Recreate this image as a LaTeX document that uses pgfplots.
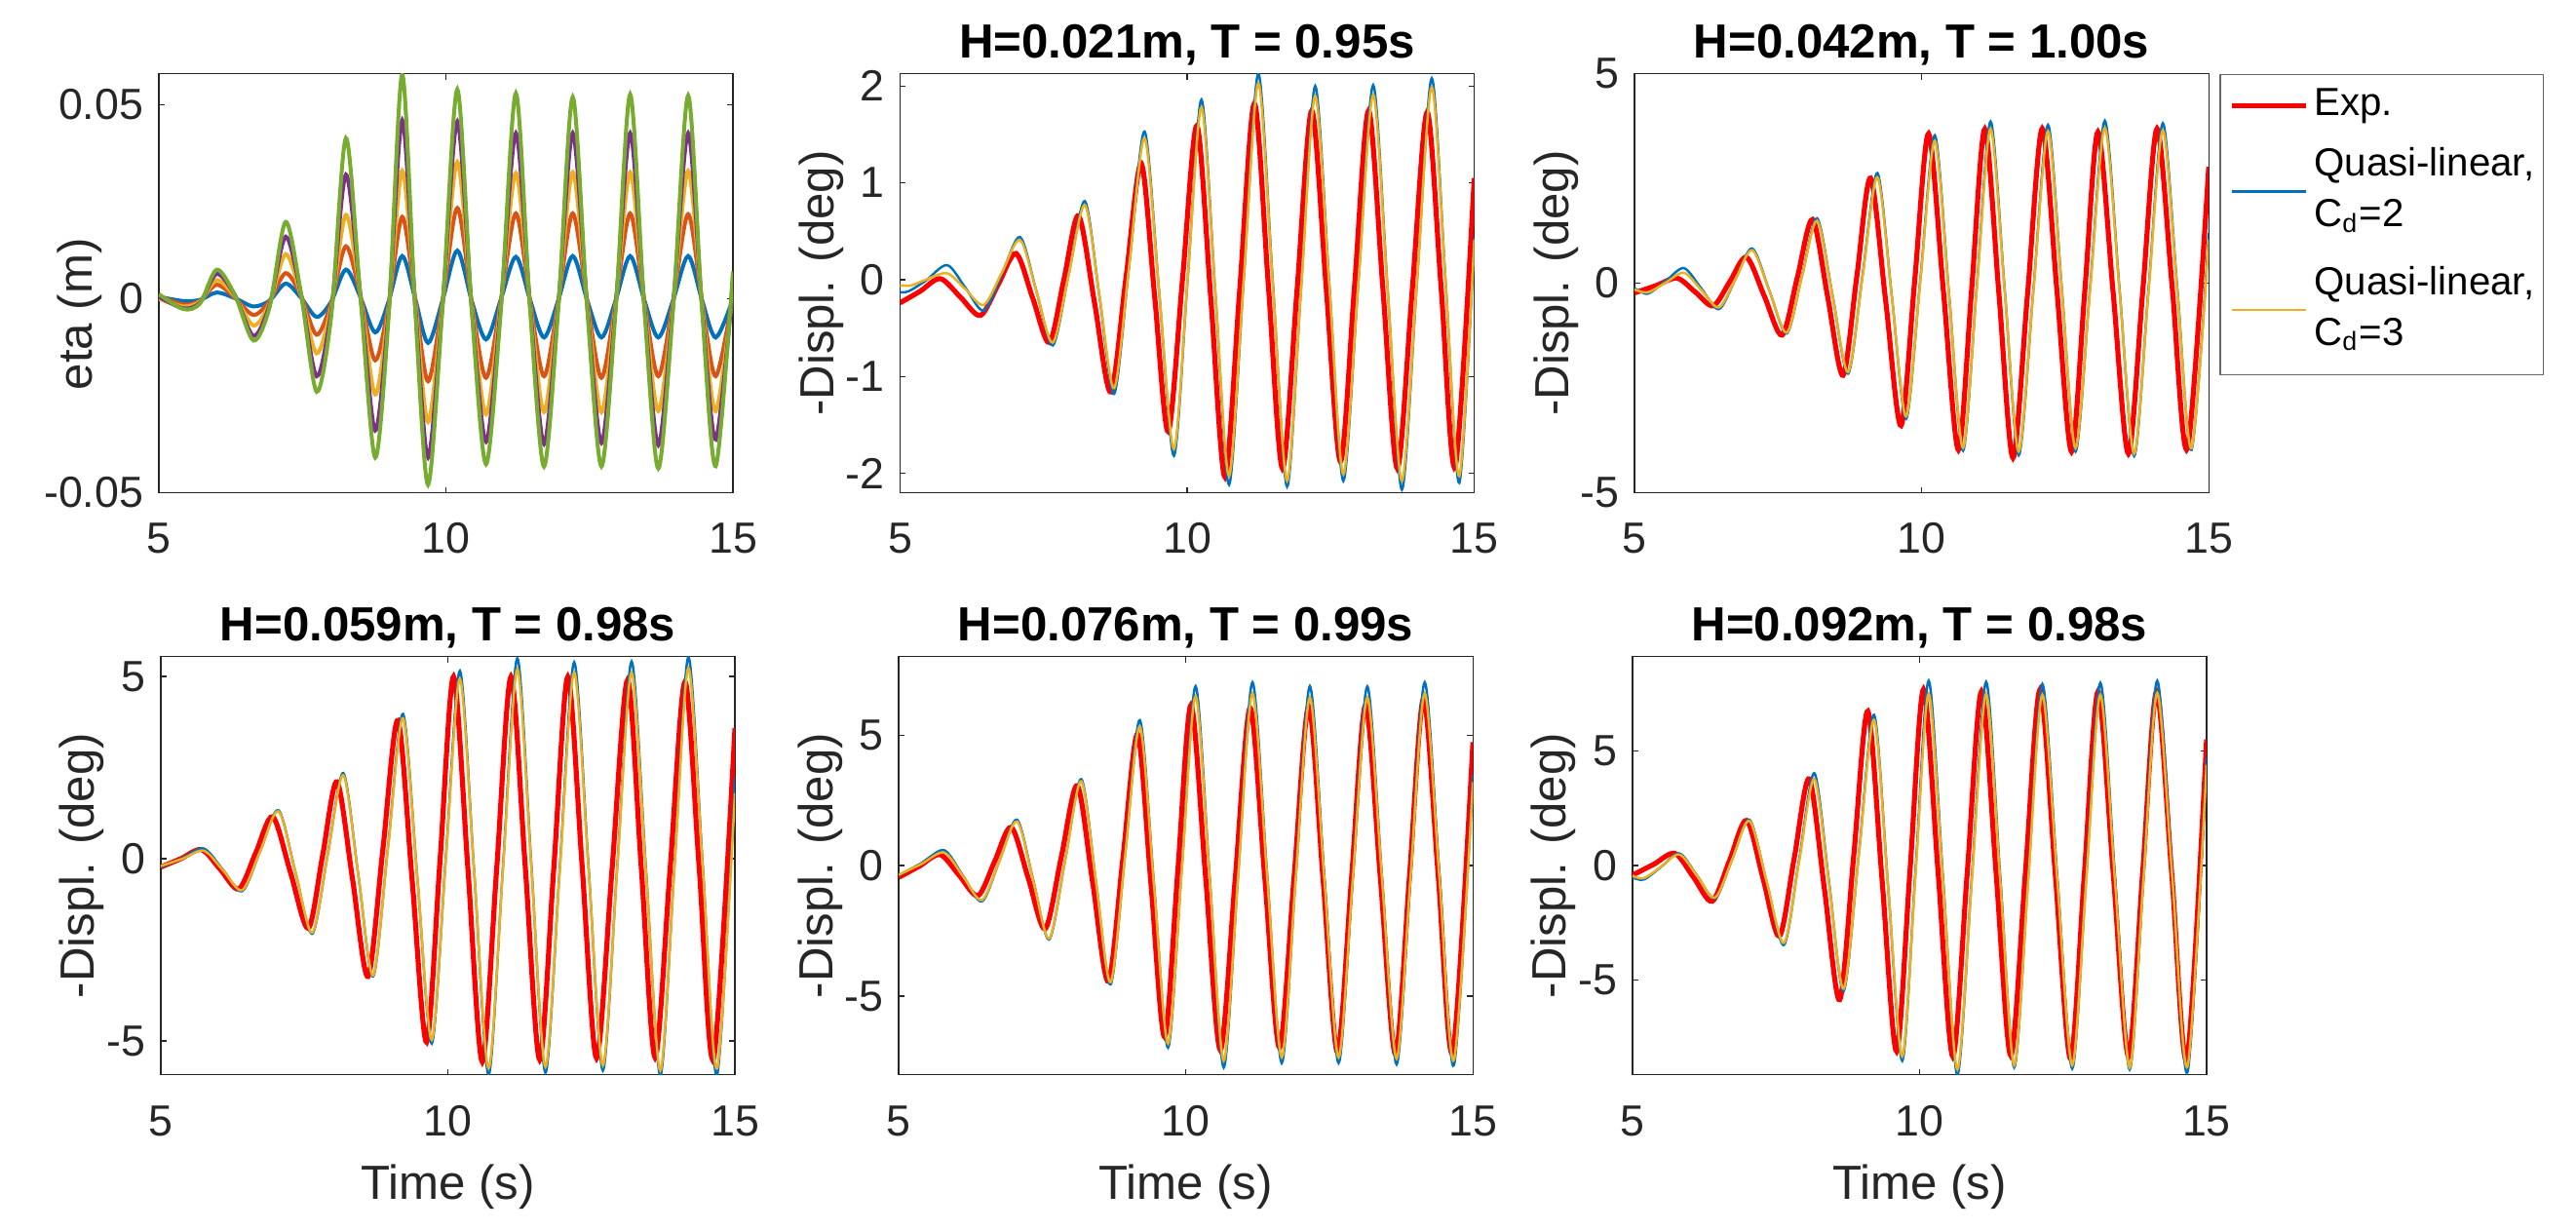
\documentclass[border=0pt]{standalone}
\usepackage{fontspec}
\setmainfont{Liberation Sans}
\usepackage{pgfplots}
\pgfplotsset{compat=1.18}
\definecolor{mblue}{rgb}{0,0.447,0.741}
\definecolor{morange}{rgb}{0.85,0.325,0.098}
\definecolor{myellow}{rgb}{0.929,0.694,0.125}
\definecolor{mpurple}{rgb}{0.494,0.184,0.556}
\definecolor{mgreen}{rgb}{0.466,0.674,0.188}
\definecolor{txtgray}{rgb}{0.15,0.15,0.15}
\definecolor{axgray}{rgb}{0.15,0.15,0.15}
\pgfplotsset{
 panel/.style={
  scale only axis, width=131.8pt, height=96.1pt,
  anchor=south west,
  xmin=5, xmax=15, xtick={5,10,15}, xticklabels={5,10,15},
  scaled y ticks=false, scaled x ticks=false,
  tick align=inside, major tick length=1.3pt,
  axis line style={axgray, line width=0.3pt},
  every tick/.style={axgray, line width=0.3pt},
  tick label style={font=\fontsize{10}{12}\selectfont, text=txtgray},
  xticklabel style={anchor=base, yshift=-14pt},
  every axis x label/.style={at={(axis description cs:0.5,0)}, yshift=-28.6pt, anchor=base, font=\fontsize{11}{13}\selectfont, text=txtgray},
  every axis y label/.style={at={(axis description cs:0,0.5)}, xshift=-15.2pt, rotate=90, anchor=base, font=\fontsize{11}{13}\selectfont, text=txtgray},
  every axis title/.style={at={(axis description cs:0.5,1)}, yshift=3.6pt, anchor=base, font=\fontsize{11}{13}\selectfont\bfseries, text=black},
  no markers, clip=true,
  every axis plot/.append style={smooth},
  /pgf/number format/assume math mode=true,
 },
 exps/.style={red, line width=1.15pt},
 cdtwo/.style={mblue, line width=0.55pt},
 cdthree/.style={myellow, line width=0.55pt},
}
\begin{document}
\begin{tikzpicture}
\useasboundingbox (0,0) rectangle (591.3pt,282.55pt);

% ---------------- top-left: eta
\begin{axis}[panel, at={(36.44pt,169.49pt)},
  ymin=-0.05, ymax=0.058, ytick={-0.05,0,0.05}, yticklabels={-0.05,0,0.05},
  ylabel={eta (m)}, every axis y label/.append style={xshift=-7.1pt}]
\addplot[mblue, line width=0.9pt] coordinates {(5.0,0.0005) (5.43,-0.0006) (5.72,-0.0003) (6.01,0.0016) (6.33,0.0001) (6.65,-0.002) (6.93,-0.0005) (7.21,0.0039) (7.48,0.0002) (7.75,-0.0047) (8.005,-0.0007) (8.26,0.0075) (8.515,0.0003) (8.77,-0.0087) (9.005,-0.0006) (9.24,0.011) (9.465,0.0001) (9.69,-0.0114) (9.945,-0.0003) (10.2,0.0124) (10.45,-0.0005) (10.7,-0.0105) (10.96,-0.0001) (11.22,0.0108) (11.465,-0.0002) (11.71,-0.01) (11.96,-0.0003) (12.21,0.011) (12.46,-0.0003) (12.71,-0.01) (12.96,-0.0003) (13.21,0.011) (13.455,-0.0003) (13.7,-0.01) (13.96,-0.0003) (14.22,0.011) (14.46,-0.0003) (14.7,-0.01) (15.0,0.0)};
\addplot[morange, line width=0.9pt] coordinates {(5.0,0.0008) (5.43,-0.0015) (5.72,-0.0005) (6.01,0.0036) (6.33,0.0002) (6.65,-0.0042) (6.93,-0.0006) (7.21,0.0066) (7.48,0.0007) (7.75,-0.0093) (8.005,-0.001) (8.26,0.0135) (8.515,0.0006) (8.77,-0.0159) (9.005,-0.0013) (9.24,0.0211) (9.465,0.0) (9.69,-0.0213) (9.945,-0.0005) (10.2,0.0234) (10.45,-0.0008) (10.7,-0.0204) (10.96,-0.0004) (11.22,0.022) (11.465,-0.0005) (11.71,-0.02) (11.96,-0.0005) (12.21,0.022) (12.46,-0.0004) (12.71,-0.0204) (12.96,-0.0004) (13.21,0.022) (13.455,-0.0005) (13.7,-0.02) (13.96,-0.0005) (14.22,0.0218) (14.46,-0.0005) (14.7,-0.02) (15.0,0.001)};
\addplot[myellow, line width=0.9pt] coordinates {(5.0,0.0) (5.43,-0.002) (5.72,-0.0007) (6.01,0.0048) (6.33,0.0005) (6.65,-0.0069) (6.93,-0.0012) (7.21,0.0115) (7.48,0.0007) (7.75,-0.0141) (8.005,-0.0019) (8.26,0.0216) (8.515,0.0008) (8.77,-0.0247) (9.005,-0.0021) (9.24,0.033) (9.465,-0.0003) (9.69,-0.0318) (9.945,-0.0009) (10.2,0.0353) (10.45,-0.0014) (10.7,-0.0298) (10.96,-0.0007) (11.22,0.0324) (11.465,-0.0008) (11.71,-0.0292) (11.96,-0.0008) (12.21,0.0326) (12.46,-0.0008) (12.71,-0.0293) (12.96,-0.0008) (13.21,0.0326) (13.455,-0.0009) (13.7,-0.029) (13.96,-0.001) (14.22,0.033) (14.46,-0.001) (14.7,-0.029) (15.0,0.002)};
\addplot[mpurple, line width=0.9pt] coordinates {(5.0,0.0005) (5.43,-0.0025) (5.72,-0.001) (6.01,0.0064) (6.33,0.0008) (6.65,-0.0096) (6.93,-0.0016) (7.21,0.016) (7.48,0.001) (7.75,-0.020) (8.005,-0.003) (8.26,0.032) (8.515,0.0005) (8.77,-0.034) (9.005,-0.003) (9.24,0.046) (9.465,-0.0013) (9.69,-0.041) (9.945,-0.0012) (10.2,0.0457) (10.45,-0.0022) (10.7,-0.0369) (10.96,-0.0015) (11.22,0.0427) (11.465,-0.0013) (11.71,-0.0375) (11.96,-0.0013) (12.21,0.0427) (12.46,-0.0014) (12.71,-0.0372) (12.96,-0.0014) (13.21,0.0427) (13.455,-0.0012) (13.7,-0.0378) (13.96,-0.0012) (14.22,0.0427) (14.46,-0.0016) (14.7,-0.0363) (15.0,0.004)};
\addplot[mgreen, line width=0.9pt] coordinates {(5.0,0.0012) (5.43,-0.0027) (5.72,-0.0012) (6.01,0.0075) (6.33,0.0008) (6.65,-0.0108) (6.93,-0.0022) (7.21,0.0198) (7.48,0.0011) (7.75,-0.024) (8.005,-0.0043) (8.26,0.0414) (8.515,-0.0001) (8.77,-0.041) (9.005,-0.0042) (9.24,0.0578) (9.465,-0.0025) (9.69,-0.048) (9.945,-0.0015) (10.2,0.054) (10.45,-0.0028) (10.7,-0.0427) (10.96,-0.0026) (11.22,0.053) (11.465,-0.0024) (11.71,-0.0433) (11.96,-0.0022) (12.21,0.052) (12.46,-0.0022) (12.71,-0.0433) (12.96,-0.0024) (13.21,0.0527) (13.455,-0.0022) (13.7,-0.0438) (13.96,-0.0022) (14.22,0.0524) (14.46,-0.0023) (14.7,-0.0432) (15.0,0.007)};
\end{axis}

% ---------------- top-middle
\begin{axis}[panel, at={(206.6pt,169.49pt)},
  ymin=-2.2, ymax=2.126, ytick={-2,-1,0,1,2}, yticklabels={-2,-1,0,1,2},
  ylabel={-Displ. (deg)}, title={H=0.021m, T = 0.95s}]
\addplot[exps] coordinates {(5.0,-0.24) (5.35,-0.12) (5.70,0.01) (6.05,-0.18) (6.40,-0.37) (6.71,-0.05) (7.02,0.27) (7.31,-0.19) (7.60,-0.65) (7.855,0.005) (8.11,0.66) (8.39,-0.25) (8.67,-1.16) (8.935,0.02) (9.20,1.20) (9.435,-0.18) (9.67,-1.57) (9.92,0.01) (10.17,1.59) (10.415,-0.22) (10.66,-2.04) (10.915,-0.11) (11.17,1.82) (11.415,-0.065) (11.66,-1.95) (11.915,-0.10) (12.17,1.745) (12.42,-0.07) (12.67,-1.88) (12.915,-0.07) (13.16,1.745) (13.41,-0.10) (13.66,-1.95) (13.92,-0.11) (14.18,1.73) (14.425,-0.1) (14.67,-1.93) (15.0,1.05)};
\addplot[cdtwo] coordinates {(5.0,-0.13) (5.15,-0.12) (5.45,-0.01) (5.82,0.15) (6.14,-0.085) (6.46,-0.32) (6.775,0.06) (7.09,0.44) (7.375,-0.12) (7.66,-0.68) (7.94,0.065) (8.22,0.81) (8.475,-0.185) (8.73,-1.18) (8.995,0.175) (9.26,1.53) (9.515,-0.145) (9.77,-1.82) (10.01,0.02) (10.25,1.86) (10.49,-0.13) (10.73,-2.12) (10.985,0.005) (11.24,2.13) (11.49,-0.005) (11.74,-2.14) (11.985,-0.07) (12.23,2.0) (12.475,-0.04) (12.72,-2.08) (12.98,-0.035) (13.24,2.01) (13.49,-0.08) (13.74,-2.17) (14.0,-0.045) (14.26,2.08) (14.5,-0.01) (14.74,-2.1) (15.0,0.44)};
\addplot[cdthree] coordinates {(5.0,-0.06) (5.2,-0.06) (5.45,0.0) (5.82,0.065) (6.14,-0.1) (6.46,-0.26) (6.775,0.075) (7.09,0.41) (7.375,-0.12) (7.66,-0.65) (7.94,0.06) (8.22,0.77) (8.475,-0.175) (8.73,-1.12) (8.995,0.17) (9.26,1.46) (9.515,-0.145) (9.77,-1.75) (10.01,0.015) (10.25,1.78) (10.49,-0.125) (10.73,-2.03) (10.985,0.0) (11.24,2.03) (11.49,-0.025) (11.74,-2.08) (11.985,-0.09) (12.23,1.9) (12.475,-0.055) (12.72,-2.01) (12.98,-0.05) (13.24,1.91) (13.49,-0.085) (13.74,-2.08) (14.0,-0.045) (14.26,1.99) (14.5,-0.02) (14.74,-2.03) (15.0,0.41)};
\end{axis}

% ---------------- top-right (with legend)
\begin{axis}[panel, at={(375.2pt,169.49pt)},
  ymin=-5, ymax=5, ytick={-5,0,5}, yticklabels={-5,0,5},
  ylabel={-Displ. (deg)}, title={H=0.042m, T = 1.00s},
  legend style={at={(axis description cs:1,1)}, anchor=north west, xshift=2.5pt,
    draw=axgray!70, line width=0.3pt, fill=white, inner xsep=2pt, inner ysep=3.2pt,
    row sep=4pt, column sep=1.4pt,
    nodes={inner sep=0pt, text depth=, font=\fontsize{9}{11.6}\selectfont, text=black},
    cells={anchor=west}},
  legend image code/.code={\draw[#1] (0pt,0pt) -- (17pt,0pt);}]
\addplot[exps] coordinates {(5.0,-0.23) (5.37,-0.06) (5.74,0.12) (6.055,-0.21) (6.37,-0.54) (6.66,0.04) (6.95,0.62) (7.26,-0.31) (7.57,-1.24) (7.835,0.14) (8.10,1.52) (8.365,-0.34) (8.63,-2.2) (8.87,0.155) (9.11,2.51) (9.375,-0.445) (9.64,-3.4) (9.88,0.085) (10.12,3.57) (10.38,-0.205) (10.64,-3.98) (10.87,-0.15) (11.10,3.68) (11.345,-0.245) (11.59,-4.17) (11.845,-0.24) (12.10,3.69) (12.355,-0.165) (12.61,-4.02) (12.84,-0.205) (13.07,3.61) (13.335,-0.23) (13.60,-4.07) (13.85,-0.19) (14.10,3.69) (14.365,-0.125) (14.63,-3.94) (15.0,2.78)};
\addlegendentry{Exp.}
\addplot[cdtwo] coordinates {(5.0,-0.12) (5.23,-0.25) (5.545,0.055) (5.86,0.36) (6.165,-0.13) (6.47,-0.62) (6.76,0.105) (7.05,0.83) (7.35,-0.185) (7.65,-1.2) (7.915,0.175) (8.18,1.55) (8.45,-0.305) (8.72,-2.16) (8.975,0.235) (9.23,2.63) (9.48,-0.305) (9.73,-3.24) (9.98,0.145) (10.23,3.53) (10.475,-0.235) (10.72,-4.0) (10.96,-0.07) (11.20,3.86) (11.445,-0.125) (11.69,-4.11) (11.945,-0.165) (12.20,3.78) (12.44,-0.12) (12.68,-4.02) (12.935,-0.07) (13.19,3.88) (13.445,-0.125) (13.70,-4.13) (13.95,-0.155) (14.20,3.82) (14.45,-0.08) (14.70,-3.98) (15.0,1.2)};
\addlegendentry{\begin{tabular}{@{}l@{}}Quasi-linear,\\C\textsubscript{d}=2\end{tabular}}
\addplot[cdthree] coordinates {(5.0,-0.15) (5.23,-0.22) (5.545,0.015) (5.86,0.25) (6.165,-0.165) (6.47,-0.58) (6.76,0.105) (7.05,0.79) (7.35,-0.195) (7.65,-1.18) (7.915,0.155) (8.18,1.49) (8.45,-0.315) (8.72,-2.12) (8.975,0.205) (9.23,2.53) (9.48,-0.325) (9.73,-3.18) (9.98,0.11) (10.23,3.4) (10.475,-0.265) (10.72,-3.93) (10.96,-0.12) (11.20,3.69) (11.445,-0.165) (11.69,-4.02) (11.945,-0.195) (12.20,3.63) (12.44,-0.155) (12.68,-3.94) (12.935,-0.115) (13.19,3.71) (13.445,-0.18) (13.70,-4.07) (13.95,-0.21) (14.20,3.65) (14.45,-0.145) (14.70,-3.94) (15.0,1.04)};
\addlegendentry{\begin{tabular}{@{}l@{}}Quasi-linear,\\C\textsubscript{d}=3\end{tabular}}
\end{axis}

% ---------------- bottom-left
\begin{axis}[panel, at={(36.9pt,35.9pt)}, height=95.9pt,
  ymin=-5.92, ymax=5.54, ytick={-5,0,5}, yticklabels={-5,0,5},
  ylabel={-Displ. (deg)}, xlabel={Time (s)}, title={H=0.059m, T = 0.98s}]
\addplot[exps] coordinates {(5.0,-0.23) (5.35,0.0) (5.71,0.25) (6.035,-0.29) (6.36,-0.83) (6.655,0.16) (6.95,1.15) (7.26,-0.38) (7.57,-1.91) (7.82,0.1) (8.07,2.11) (8.34,-0.56) (8.61,-3.23) (8.87,0.28) (9.13,3.79) (9.38,-0.62) (9.63,-5.03) (9.865,-0.02) (10.10,4.99) (10.35,-0.29) (10.60,-5.57) (10.85,-0.29) (11.10,4.99) (11.35,-0.26) (11.60,-5.51) (11.845,-0.26) (12.09,4.99) (12.34,-0.24) (12.59,-5.47) (12.86,-0.285) (13.13,4.9) (13.37,-0.275) (13.61,-5.45) (13.87,-0.3) (14.13,4.85) (14.38,-0.31) (14.63,-5.47) (15.0,3.58)};
\addplot[cdtwo] coordinates {(5.0,-0.23) (5.38,0.02) (5.75,0.28) (6.085,-0.305) (6.42,-0.89) (6.735,0.22) (7.05,1.33) (7.345,-0.365) (7.64,-2.06) (7.91,0.145) (8.18,2.35) (8.44,-0.44) (8.70,-3.23) (8.96,0.37) (9.22,3.97) (9.47,-0.55) (9.72,-5.07) (9.965,0.04) (10.21,5.15) (10.46,-0.39) (10.71,-5.93) (10.96,-0.215) (11.21,5.5) (11.455,-0.185) (11.70,-5.87) (11.95,-0.24) (12.20,5.39) (12.45,-0.21) (12.70,-5.81) (12.95,-0.2) (13.20,5.41) (13.45,-0.27) (13.70,-5.95) (13.945,-0.21) (14.19,5.53) (14.44,-0.2) (14.69,-5.93) (15.0,2.23)};
\addplot[cdthree] coordinates {(5.0,-0.2) (5.38,0.0) (5.75,0.22) (6.085,-0.32) (6.42,-0.86) (6.735,0.22) (7.05,1.3) (7.345,-0.365) (7.64,-2.03) (7.91,0.13) (8.18,2.29) (8.44,-0.455) (8.70,-3.2) (8.96,0.325) (9.22,3.85) (9.47,-0.56) (9.72,-4.97) (9.965,-0.02) (10.21,4.93) (10.46,-0.41) (10.71,-5.75) (10.96,-0.275) (11.21,5.2) (11.455,-0.255) (11.70,-5.71) (11.95,-0.3) (12.20,5.11) (12.45,-0.28) (12.70,-5.67) (12.95,-0.28) (13.20,5.11) (13.45,-0.35) (13.70,-5.81) (13.945,-0.29) (14.19,5.23) (14.44,-0.26) (14.69,-5.75) (15.0,1.8)};
\end{axis}

% ---------------- bottom-middle
\begin{axis}[panel, at={(206.3pt,35.9pt)}, height=95.9pt,
  ymin=-8, ymax=8, ytick={-5,0,5}, yticklabels={-5,0,5},
  ylabel={-Displ. (deg)}, xlabel={Time (s)}, title={H=0.076m, T = 0.99s}]
\addplot[exps] coordinates {(5.0,-0.45) (5.36,-0.02) (5.72,0.42) (6.05,-0.365) (6.38,-1.15) (6.67,0.16) (6.96,1.47) (7.255,-0.475) (7.55,-2.42) (7.83,0.32) (8.11,3.06) (8.38,-0.685) (8.65,-4.43) (8.905,0.3) (9.16,5.03) (9.395,-0.765) (9.63,-6.56) (9.86,-0.205) (10.09,6.15) (10.345,-0.455) (10.60,-7.06) (10.86,-0.51) (11.12,6.04) (11.375,-0.465) (11.63,-6.97) (11.885,-0.435) (12.14,6.1) (12.39,-0.52) (12.64,-7.14) (12.885,-0.495) (13.13,6.15) (13.39,-0.535) (13.65,-7.22) (13.895,-0.41) (14.14,6.4) (14.395,-0.37) (14.65,-7.14) (15.0,4.73)};
\addplot[cdtwo] coordinates {(5.0,-0.37) (5.4,0.1) (5.79,0.59) (6.12,-0.39) (6.45,-1.37) (6.755,0.195) (7.06,1.76) (7.34,-0.535) (7.62,-2.83) (7.9,0.24) (8.18,3.31) (8.435,-0.62) (8.69,-4.55) (8.945,0.51) (9.20,5.57) (9.445,-0.7) (9.69,-6.97) (9.93,-0.05) (10.17,6.87) (10.415,-0.43) (10.66,-7.73) (10.91,-0.355) (11.16,7.02) (11.415,-0.27) (11.67,-7.56) (11.915,-0.345) (12.16,6.87) (12.41,-0.345) (12.66,-7.56) (12.91,-0.35) (13.16,6.86) (13.415,-0.375) (13.67,-7.61) (13.915,-0.295) (14.16,7.02) (14.415,-0.31) (14.67,-7.64) (15.0,3.48)};
\addplot[cdthree] coordinates {(5.0,-0.35) (5.4,0.07) (5.79,0.5) (6.12,-0.41) (6.45,-1.32) (6.755,0.185) (7.06,1.69) (7.34,-0.55) (7.62,-2.79) (7.9,0.22) (8.18,3.23) (8.435,-0.615) (8.69,-4.46) (8.945,0.43) (9.20,5.32) (9.445,-0.745) (9.69,-6.81) (9.93,-0.16) (10.17,6.49) (10.415,-0.49) (10.66,-7.47) (10.91,-0.435) (11.16,6.6) (11.415,-0.37) (11.67,-7.34) (11.915,-0.45) (12.16,6.44) (12.41,-0.45) (12.66,-7.34) (12.91,-0.45) (13.16,6.44) (13.415,-0.475) (13.67,-7.39) (13.915,-0.395) (14.16,6.6) (14.415,-0.42) (14.67,-7.44) (15.0,3.2)};
\end{axis}

% ---------------- bottom-right
\begin{axis}[panel, at={(374.7pt,35.9pt)}, height=95.9pt,
  ymin=-9.13, ymax=9.12, ytick={-5,0,5}, yticklabels={-5,0,5},
  ylabel={-Displ. (deg)}, xlabel={Time (s)}, title={H=0.092m, T = 0.98s}]
\addplot[exps] coordinates {(5.0,-0.42) (5.37,0.05) (5.74,0.53) (6.065,-0.515) (6.39,-1.56) (6.69,0.205) (6.99,1.97) (7.275,-0.56) (7.56,-3.09) (7.82,0.345) (8.08,3.78) (8.345,-1.04) (8.61,-5.86) (8.855,0.44) (9.10,6.74) (9.35,-0.685) (9.60,-8.11) (9.835,-0.21) (10.07,7.69) (10.325,-0.325) (10.58,-8.34) (10.83,-0.37) (11.08,7.6) (11.335,-0.35) (11.59,-8.3) (11.845,-0.305) (12.10,7.69) (12.365,-0.375) (12.63,-8.44) (12.87,-0.42) (13.11,7.6) (13.375,-0.37) (13.64,-8.34) (13.885,-0.37) (14.13,7.6) (14.395,-0.42) (14.66,-8.44) (15.0,5.5)};
\addplot[cdtwo] coordinates {(5.0,-0.52) (5.20,-0.61) (5.51,-0.04) (5.82,0.53) (6.13,-0.45) (6.44,-1.43) (6.74,0.285) (7.04,2.0) (7.34,-0.735) (7.64,-3.47) (7.905,0.28) (8.17,4.03) (8.425,-0.725) (8.68,-5.48) (8.945,0.55) (9.21,6.58) (9.455,-0.975) (9.70,-8.53) (9.93,-0.23) (10.16,8.07) (10.41,-0.535) (10.66,-9.14) (10.91,-0.56) (11.16,8.02) (11.405,-0.4) (11.65,-8.82) (11.895,-0.45) (12.14,7.92) (12.4,-0.475) (12.66,-8.87) (12.905,-0.445) (13.15,7.98) (13.405,-0.465) (13.66,-8.91) (13.9,-0.42) (14.14,8.07) (14.405,-0.47) (14.67,-9.01) (15.0,4.73)};
\addplot[cdthree] coordinates {(5.0,-0.45) (5.20,-0.55) (5.51,-0.035) (5.82,0.48) (6.13,-0.46) (6.44,-1.4) (6.74,0.275) (7.04,1.95) (7.34,-0.715) (7.64,-3.38) (7.905,0.2) (8.17,3.78) (8.425,-0.8) (8.68,-5.38) (8.945,0.485) (9.21,6.35) (9.455,-0.995) (9.70,-8.34) (9.93,-0.42) (10.16,7.5) (10.41,-0.705) (10.66,-8.91) (10.91,-0.705) (11.16,7.5) (11.405,-0.61) (11.65,-8.72) (11.895,-0.63) (12.14,7.46) (12.4,-0.63) (12.66,-8.72) (12.905,-0.63) (13.15,7.46) (13.405,-0.68) (13.66,-8.82) (13.9,-0.64) (14.14,7.54) (14.405,-0.61) (14.67,-8.76) (15.0,4.4)};
\end{axis}
\end{tikzpicture}
\end{document}
